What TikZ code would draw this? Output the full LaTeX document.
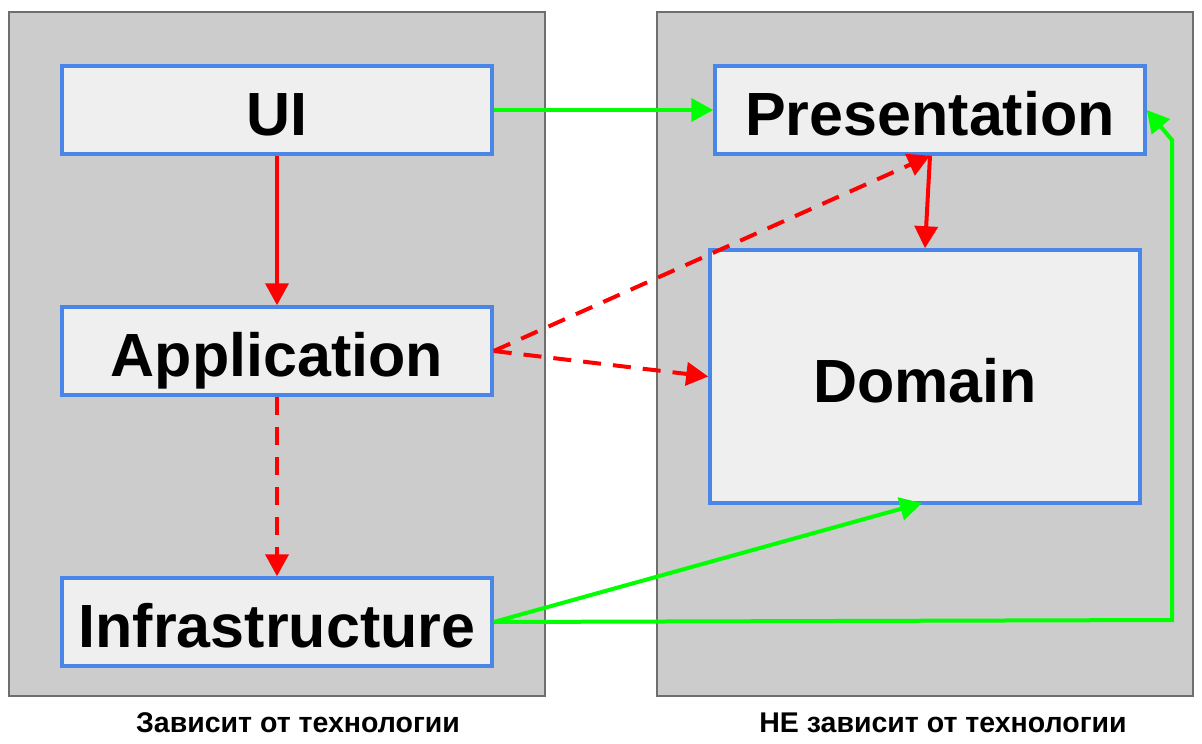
\documentclass[tikz,border=0pt]{standalone}
\usepackage{fontspec}
\setmainfont{Liberation Sans}
\usetikzlibrary{arrows.meta}
\definecolor{panelgray}{HTML}{CCCCCC}
\definecolor{panelborder}{HTML}{6E6E6E}
\definecolor{boxfill}{HTML}{EFEFEF}
\definecolor{boxblue}{HTML}{4A86E8}
\definecolor{arrgreen}{HTML}{00FF00}
\definecolor{arrred}{HTML}{FF0000}
\tikzset{
  panel/.style={draw=panelborder, fill=panelgray, line width=2.5pt, minimum width=536pt, minimum height=684pt, inner sep=0pt},
  layer/.style={draw=boxblue, fill=boxfill, line width=3.5pt, minimum width=430pt, minimum height=88pt, inner sep=0pt,
    text height=51pt, text depth=0pt,
    font=\fontsize{61}{67}\selectfont\bfseries},
  caption/.style={font=\fontsize{28.5}{32}\selectfont\bfseries, inner sep=0pt},
  greenarr/.style={draw=arrgreen, line width=4pt, -{Triangle[length=22pt,width=23pt]}},
  redarr/.style={draw=arrred, line width=4pt, -{Triangle[length=22pt,width=23pt]}},
  reddash/.style={redarr, dash pattern=on 18pt off 12pt},
}
\begin{document}
\begin{tikzpicture}[x=1pt,y=-1pt]
\useasboundingbox (0,0) rectangle (1202,744);
\node[panel] (leftpanel) at (277,354) {};
\node[panel] (rightpanel) at (925,354) {};
\node[layer] (ui) at (277,110) {UI};
\node[layer] (app) at (277,351) {Application};
\node[layer] (infra) at (277,622) {Infrastructure};
\node[layer] (pres) at (930,110) {Presentation};
\node[layer, minimum height=253pt] (domain) at (925,376.5) {Domain};
\node[caption] (capleft) at (298,723) {Зависит от технологии};
\node[caption] (capright) at (943,723) {НЕ зависит от технологии};
\coordinate (c1) at (1172,620);
\coordinate (c2) at (1172,140);
\coordinate (dsouth) at (922,503);
\draw[greenarr] (ui.east) -- (pres.west);
\draw[redarr] (ui.south) -- (app.north);
\draw[reddash] (app.south) -- (infra.north);
\draw[reddash] (app.east) -- (pres.south);
\draw[reddash] (app.east) -- (domain.west);
\draw[redarr] (pres.south) -- (domain.north);
\draw[greenarr] (infra.east) -- (dsouth);
\draw[greenarr] (infra.east) -- (c1) -- (c2) -- (pres.east);
\end{tikzpicture}
\end{document}
